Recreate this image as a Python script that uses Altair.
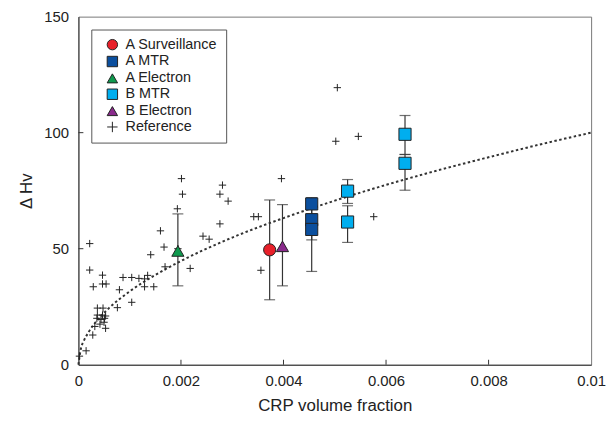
import altair as alt
import pandas as pd

# ---------------- data ----------------
ref_x = [0.00002, 0.00015, 0.00028, 0.00022, 0.00022, 0.00047, 0.00029, 0.00047, 0.00054,
         0.00087, 0.00104, 0.00118, 0.00129, 0.00135, 0.00141, 0.00129, 0.00147, 0.00080,
         0.00104, 0.00076, 0.00037, 0.00048, 0.00037, 0.00047, 0.00053, 0.00036, 0.00044,
         0.00051, 0.00050, 0.00042, 0.00032, 0.00053, 0.00160, 0.00167, 0.00169, 0.00193,
         0.00201, 0.00203, 0.00194, 0.00218, 0.00243, 0.00255, 0.00276, 0.00276, 0.00281,
         0.00292, 0.00342, 0.00351, 0.00356, 0.00396, 0.00502, 0.00505, 0.00546, 0.00576]
ref_y = [3.7, 6.0, 12.8, 52.2, 40.8, 38.6, 33.6, 34.8, 34.8,
         37.6, 37.6, 37.2, 37.0, 38.5, 47.4, 33.6, 33.6, 32.3,
         26.9, 24.6, 24.4, 24.4, 21.4, 21.4, 21.0, 20.0, 19.5,
         20.0, 18.3, 17.5, 16.5, 15.7, 57.7, 50.7, 42.2, 67.2,
         80.2, 73.5, 50.0, 41.5, 55.4, 54.1, 60.7, 73.5, 77.4,
         70.5, 63.8, 63.8, 40.7, 80.2, 96.3, 119.4, 98.4, 63.8]

mk_series = ["A Surveillance", "A MTR", "A MTR", "A MTR", "A Electron",
             "B MTR", "B MTR", "B MTR", "B MTR", "B Electron"]
mk_x = [0.00373, 0.00455, 0.00455, 0.00455, 0.00194,
        0.00525, 0.00525, 0.00637, 0.00637, 0.00398]
mk_y = [49.5, 69.3, 62.5, 58.3, 49.0, 74.8, 61.5, 99.3, 86.8, 51.0]
mk_lo = [28.0, 65.0, 53.8, 40.2, 34.0, 69.5, 52.7, 90.6, 75.2, 34.0]
mk_hi = [71.0, 72.0, 69.0, 62.0, 65.0, 79.8, 68.5, 107.4, 90.6, 69.0]

fit_x = [0.0, 0.00005, 0.0001, 0.0002, 0.0004, 0.0006, 0.001, 0.0015, 0.002, 0.003,
         0.004, 0.005, 0.006, 0.007, 0.008, 0.009, 0.01]
fit_y = [0.0, 7.1, 10.0, 14.1, 20.0, 24.5, 31.6, 38.7, 44.7, 54.8,
         63.2, 70.7, 77.5, 83.7, 89.4, 94.9, 100.0]

series_order = ["A Surveillance", "A MTR", "A Electron", "B MTR", "B Electron", "Reference"]
series_colors = ["#e8202a", "#0b4f9e", "#0f9a4e", "#00aeef", "#8a2a8c", "#000000"]
plus_path = "M-1,0H1M0,-1V1"
series_shapes = ["circle", "square", "triangle-up", "square", "triangle-up", plus_path]

x_ticks = [0, 0.002, 0.004, 0.006, 0.008, 0.01]
y_ticks = [0, 50, 100, 150]
# -----------------------------------------------------------------------

W, H = 517, 351

pts = pd.DataFrame({
    "x": ref_x + mk_x,
    "y": ref_y + mk_y,
    "series": ["Reference"] * len(ref_x) + mk_series,
    "sz": [55] * len(ref_x) + [150] * len(mk_x),
})
err = pd.DataFrame({"x": mk_x, "lo": mk_lo, "hi": mk_hi})
fit = pd.DataFrame({"x": fit_x, "y": fit_y})

xs = alt.Scale(domain=[0, 0.01], nice=False, zero=False)
ys = alt.Scale(domain=[0, 150], nice=False)

xax = alt.Axis(values=x_ticks, format="~g", ticks=False, grid=False, labelFlush=False,
               labelPadding=9, title="CRP volume fraction", titlePadding=9)
yax = alt.Axis(values=y_ticks, ticks=False, grid=False, labelPadding=10,
               title="Δ Hv", titlePadding=8)

curve = alt.Chart(fit).mark_line(strokeDash=[2.5, 2.5], strokeWidth=2, color="#333",
                                 interpolate="monotone").encode(
    x=alt.X("x:Q", scale=xs, axis=xax),
    y=alt.Y("y:Q", scale=ys, axis=yax),
)

bars = alt.Chart(err).mark_rule(color="#333", strokeWidth=1.2).encode(
    x="x:Q", y="lo:Q", y2="hi:Q")
cap_lo = alt.Chart(err).mark_tick(orient="horizontal", size=11, thickness=1.2,
                                  color="#333").encode(x="x:Q", y="lo:Q")
cap_hi = alt.Chart(err).mark_tick(orient="horizontal", size=11, thickness=1.2,
                                  color="#333").encode(x="x:Q", y="hi:Q")

points = alt.Chart(pts).mark_point(filled=True, opacity=1, stroke="#222",
                                   strokeWidth=1).encode(
    x="x:Q",
    y="y:Q",
    color=alt.Color("series:N", scale=alt.Scale(domain=series_order, range=series_colors),
                    sort=series_order,
                    legend=alt.Legend(title=None, orient="none", legendX=13, legendY=13,
                                      padding=8, symbolOffset=6, labelOffset=6,
                                      symbolSize=110, symbolStrokeColor="#222",
                                      symbolStrokeWidth=1, labelFontSize=14.5,
                                      labelFont="Liberation Sans", labelColor="#222",
                                      rowPadding=1, strokeColor="#555",
                                      fillColor="white")),
    shape=alt.Shape("series:N", scale=alt.Scale(domain=series_order, range=series_shapes),
                    sort=series_order),
    size=alt.Size("sz:Q", scale=None, legend=None),
)

xtick = pd.DataFrame({"v": x_ticks[1:-1]})
ytick = pd.DataFrame({"v": y_ticks[1:-1]})
xt = alt.Chart(xtick).mark_rule(color="#333").encode(
    x="v:Q", y=alt.value(H), y2=alt.value(H - 5))
yt = alt.Chart(ytick).mark_rule(color="#333").encode(
    y="v:Q", x=alt.value(0), x2=alt.value(5))

chart = alt.layer(curve, xt, yt, bars, cap_lo, cap_hi, points).properties(
    width=W, height=H,
    autosize=alt.AutoSizeParams(type="none"),
    padding={"left": 71, "top": 7, "right": 15, "bottom": 52},
).configure_view(stroke="#777", strokeWidth=1).configure_axis(
    domainColor="#333", domainWidth=1, labelFont="Liberation Sans", labelFontSize=15,
    labelColor="#222", titleFont="Liberation Sans", titleFontSize=17,
    titleFontWeight="normal", titleColor="#222",
)

chart.save("out.html", embed_options={"renderer": "svg", "actions": False})
